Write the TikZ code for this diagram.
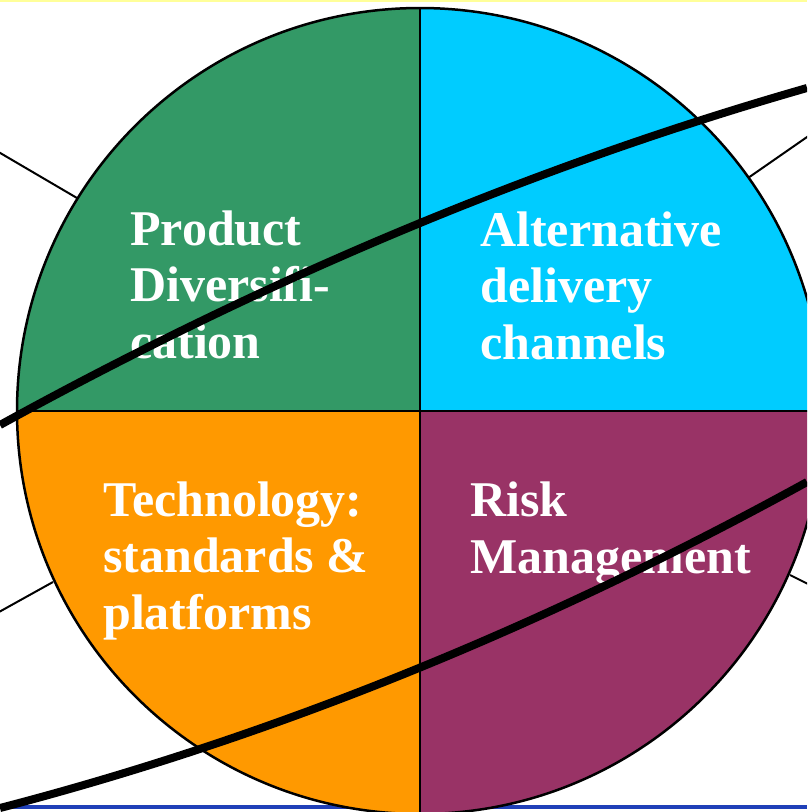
\documentclass[tikz,border=0pt]{standalone}
\usepackage{fontspec}
\setmainfont{Liberation Serif}
\definecolor{qgreen}{HTML}{339966}
\definecolor{qcyan}{HTML}{00CCFF}
\definecolor{qorange}{HTML}{FF9900}
\definecolor{qpurple}{HTML}{993366}
\definecolor{topyellow}{HTML}{FFFF99}
\definecolor{botblue}{HTML}{2040B8}
\begin{document}
\begin{tikzpicture}[x=1pt,y=-1pt,
  lbl/.style={anchor=base west,align=left,inner sep=0pt,text=white,
    font={\fontsize{50}{56.5}\selectfont\bfseries}},
  spoke/.style={line width=2pt,black},
  divider/.style={line width=2pt,black},
  orbit/.style={line width=8pt,black},
  rim/.style={line width=2.5pt,black}]
\useasboundingbox (0,0) rectangle (807,812);
\clip (0,0) rectangle (807,812);
\def\R{403}
\coordinate (C) at (420,411);
% frame lines
\coordinate (ya) at (0,0.8);
\coordinate (yb) at (807,0.8);
\draw[topyellow,line width=2pt] (ya) -- (yb);
\coordinate (ba) at (0,807);
\coordinate (bb) at (807,807);
\draw[botblue,line width=4pt] (ba) -- (bb);
% spokes
\coordinate (s1a) at (77,198);  \coordinate (s1b) at (-10,147);
\coordinate (s2a) at (748,178); \coordinate (s2b) at (820,128);
\coordinate (s3a) at (53,582);  \coordinate (s3b) at (-10,617);
\coordinate (s4a) at (790,575); \coordinate (s4b) at (820,590);
\draw[spoke] (s1a) -- (s1b);
\draw[spoke] (s2a) -- (s2b);
\draw[spoke] (s3a) -- (s3b);
\draw[spoke] (s4a) -- (s4b);
% quadrants
\fill[qgreen]  (C) -- ++(180:\R) arc[start angle=180,end angle=270,radius=\R] -- cycle;
\fill[qcyan]   (C) -- ++(270:\R) arc[start angle=270,end angle=360,radius=\R] -- cycle;
\fill[qpurple] (C) -- ++(0:\R) arc[start angle=0,end angle=90,radius=\R] -- cycle;
\fill[qorange] (C) -- ++(90:\R) arc[start angle=90,end angle=180,radius=\R] -- cycle;
\coordinate (Ct) at (420,8);
\coordinate (Cb) at (420,814);
\coordinate (Cl) at (17,411);
\coordinate (Cr) at (823,411);
\draw[divider] (Ct) -- (Cb);
\draw[divider] (Cl) -- (Cr);
\draw[rim] (C) circle[radius=\R];
% labels (anchor = baseline of last line)
\node[lbl] (pd) at (130,358) {Product\\Diversifi-\\cation};
\node[lbl] (ad) at (480,359) {Alternative\\delivery\\channels};
\node[lbl] (ts) at (103,629) {Technology:\\standards \&\\platforms};
\node[lbl] (rm) at (470,573) {Risk\\Management};
% orbits
\coordinate (o1a) at (0,425);
\coordinate (o1b) at (807,88);
\draw[orbit] (o1a) .. controls (269,277) and (538,165) .. (o1b);
\coordinate (o2a) at (0,808);
\coordinate (o2b) at (807,482);
\draw[orbit] (o2a) .. controls (269,738) and (538,630) .. (o2b);
\end{tikzpicture}
\end{document}
